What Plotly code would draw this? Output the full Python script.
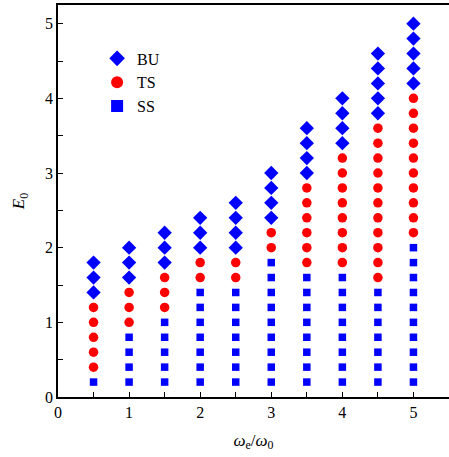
import plotly.graph_objects as go

omega_ratio = [0.5, 1.0, 1.5, 2.0, 2.5, 3.0, 3.5, 4.0, 4.5, 5.0]

ss_E = [
    [0.2],
    [0.2, 0.4, 0.6, 0.8],
    [0.2, 0.4, 0.6, 0.8, 1.0],
    [0.2, 0.4, 0.6, 0.8, 1.0, 1.2, 1.4],
    [0.2, 0.4, 0.6, 0.8, 1.0, 1.2, 1.4],
    [0.2, 0.4, 0.6, 0.8, 1.0, 1.2, 1.4, 1.6, 1.8],
    [0.2, 0.4, 0.6, 0.8, 1.0, 1.2, 1.4, 1.6],
    [0.2, 0.4, 0.6, 0.8, 1.0, 1.2, 1.4, 1.6],
    [0.2, 0.4, 0.6, 0.8, 1.0, 1.2, 1.4],
    [0.2, 0.4, 0.6, 0.8, 1.0, 1.2, 1.4, 1.6, 1.8, 2.0],
]
ts_E = [
    [0.4, 0.6, 0.8, 1.0, 1.2],
    [1.0, 1.2, 1.4],
    [1.2, 1.4, 1.6],
    [1.6, 1.8],
    [1.6, 1.8],
    [2.0, 2.2],
    [1.8, 2.0, 2.2, 2.4, 2.6, 2.8],
    [1.8, 2.0, 2.2, 2.4, 2.6, 2.8, 3.0, 3.2],
    [1.6, 1.8, 2.0, 2.2, 2.4, 2.6, 2.8, 3.0, 3.2, 3.4, 3.6],
    [2.2, 2.4, 2.6, 2.8, 3.0, 3.2, 3.4, 3.6, 3.8, 4.0],
]
bu_E = [
    [1.4, 1.6, 1.8],
    [1.6, 1.8, 2.0],
    [1.8, 2.0, 2.2],
    [2.0, 2.2, 2.4],
    [2.0, 2.2, 2.4, 2.6],
    [2.4, 2.6, 2.8, 3.0],
    [3.0, 3.2, 3.4, 3.6],
    [3.4, 3.6, 3.8, 4.0],
    [3.8, 4.0, 4.2, 4.4, 4.6],
    [4.2, 4.4, 4.6, 4.8, 5.0],
]


def flatten(cols):
    xs, ys = [], []
    for xv, col in zip(omega_ratio, cols):
        for yv in col:
            xs.append(xv)
            ys.append(yv)
    return xs, ys


FONT = "Liberation Serif"
BLUE = "#0000ff"
RED = "#ff0000"

fig = go.Figure()
bx, by = flatten(bu_E)
tx, ty = flatten(ts_E)
sx, sy = flatten(ss_E)
fig.add_trace(go.Scatter(x=bx, y=by, mode="markers", name="BU",
                         marker=dict(symbol="diamond", size=11, color=BLUE)))
fig.add_trace(go.Scatter(x=tx, y=ty, mode="markers", name="TS",
                         marker=dict(symbol="circle", size=9.5, color=RED)))
fig.add_trace(go.Scatter(x=sx, y=sy, mode="markers", name="SS",
                         marker=dict(symbol="square", size=7.5, color=BLUE)))

fig.update_layout(
    width=449, height=457,
    margin=dict(l=58, r=0, t=5, b=60),
    paper_bgcolor="white", plot_bgcolor="white",
    font=dict(family=FONT, size=16, color="black"),
    showlegend=True,
    legend=dict(x=0.1, y=0.907, xanchor="left", yanchor="top",
                bgcolor="rgba(0,0,0,0)", font=dict(family=FONT, size=16),
                itemsizing="constant", tracegroupgap=0, itemwidth=30),
    xaxis=dict(range=[0, 5.5], tickvals=[0, 1, 2, 3, 4, 5], automargin=False,
               ticks="inside", ticklen=5, tickwidth=1, tickcolor="black",
               minor=dict(ticks="inside", dtick=0.5, ticklen=5, tickcolor="black"),
               showline=True, linecolor="black", linewidth=1.5, mirror=True,
               showgrid=False, zeroline=False,
               title=dict(text="<i>ω</i><sub>e</sub>/<i>ω</i><sub>0</sub>",
                          font=dict(family=FONT, size=17), standoff=14)),
    yaxis=dict(range=[0, 5.25], tickvals=[0, 1, 2, 3, 4, 5], automargin=False,
               ticks="inside", ticklen=5, tickwidth=1, tickcolor="black",
               minor=dict(ticks="inside", dtick=0.5, ticklen=5, tickcolor="black"),
               showline=True, linecolor="black", linewidth=1.5, mirror=True,
               showgrid=False, zeroline=False,
               title=dict(text="<i>E</i><sub>0</sub>",
                          font=dict(family=FONT, size=17), standoff=16)),
)

fig.write_html("out.html", config={"displayModeBar": False},
               post_script="document.body.style.margin='0';document.body.style.overflow='hidden';")
